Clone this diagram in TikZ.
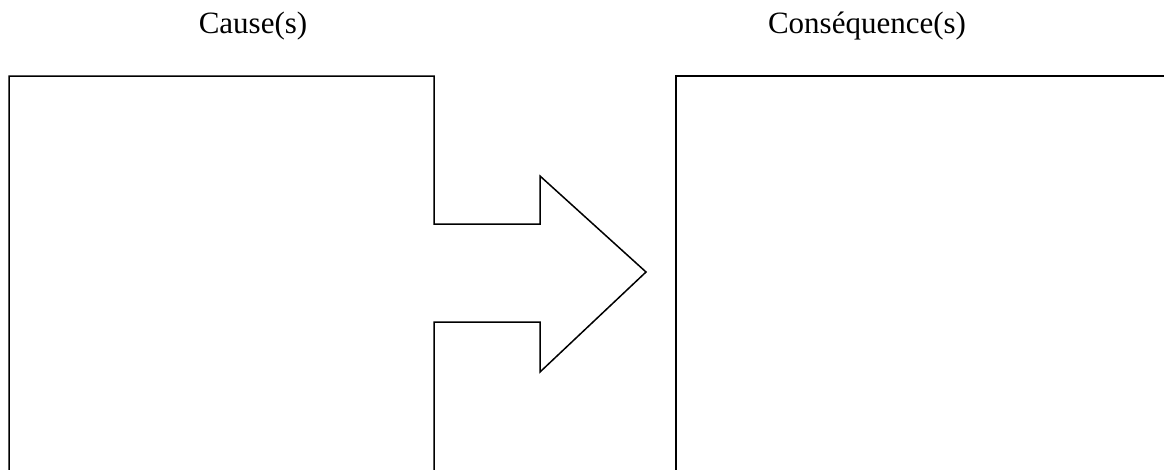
\documentclass[tikz,border=0pt]{standalone}
\usepackage{fontspec}
\setmainfont{Liberation Serif}
\usetikzlibrary{positioning}

\begin{document}
\begin{tikzpicture}[
  x=1pt,y=-1pt,
  outline/.style={draw=black,line width=1.5pt,line join=miter},
  heading/.style={font=\fontsize{31}{36}\selectfont,inner sep=0pt,anchor=base}
]
\useasboundingbox (0,0) rectangle (1164,469);
\clip (0,0) rectangle (1164,469);
% headings
\node[heading] (cause) at (253,33) {Cause(s)};
\node[heading] (effet) at (867,33) {Conséquence(s)};
% cause box with arrow
\draw[outline] (9,480) -- (9,76) -- (434,76) -- (434,224) -- (540,224) -- (540,176)
  -- (646,272) -- (540,372) -- (540,322) -- (434,322) -- (434,480);
% consequence box
\draw[outline] (676,480) -- (676,76) -- (1180,76);
\end{tikzpicture}
\end{document}
